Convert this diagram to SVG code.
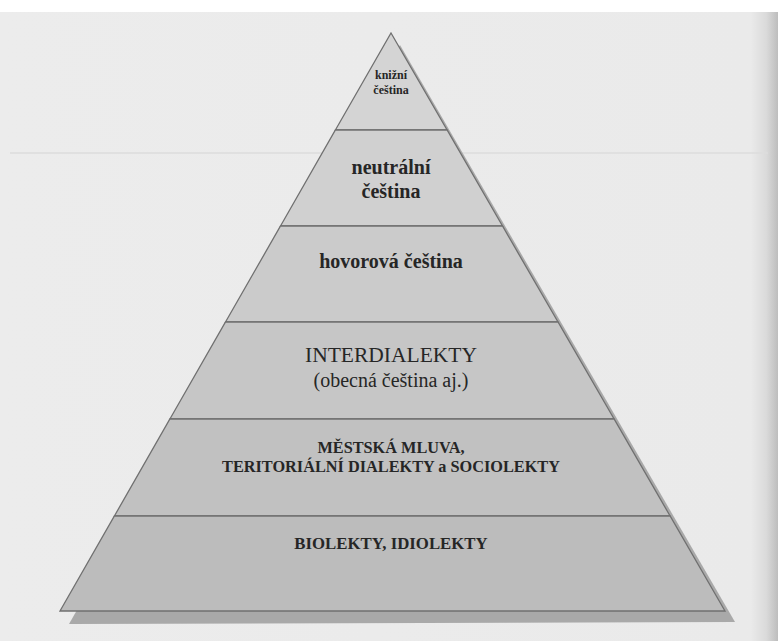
<svg xmlns="http://www.w3.org/2000/svg" width="778" height="641" viewBox="0 0 778 641">
  <style>
    .band { stroke: #707070; stroke-width: 1.3; stroke-linejoin: miter; }
    .t { font-family: 'Liberation Serif', 'DejaVu Serif', serif; fill: #262626; text-anchor: middle; }
    .b { font-weight: bold; }
  </style>
  <defs>
    <linearGradient id="page" x1="0" y1="0" x2="1" y2="0">
      <stop offset="0" stop-color="#ececec"/>
      <stop offset="0.965" stop-color="#eaeaea"/>
      <stop offset="0.985" stop-color="#dadada"/>
      <stop offset="1" stop-color="#bdbdbd"/>
    </linearGradient>
  </defs>
  <rect x="0" y="0" width="778" height="641" fill="#ffffff"/>
  <rect x="0" y="12" width="778" height="629" fill="url(#page)"/>
  <line x1="10" y1="153" x2="768" y2="153" stroke="#dcdcdc" stroke-width="1.5"/>

  <g id="shadow">
    <polygon points="400,45 69,624 735,622" fill="#a9a9a9"/>
  </g>

  <g id="band-knizni">
    <polygon class="band" points="391,33 447.1,130 335.4,130" fill="#d4d4d4"/>
    <text class="t b" x="391" y="79" font-size="12">knižní</text>
    <text class="t b" x="391" y="94" font-size="12">čeština</text>
  </g>
  <g id="band-neutralni">
    <polygon class="band" points="335.4,130 447.1,130 502.5,226 280.5,226" fill="#d0d0d0"/>
    <text class="t b" x="391" y="174" font-size="20">neutrální</text>
    <text class="t b" x="391" y="198" font-size="20">čeština</text>
  </g>
  <g id="band-hovorova">
    <polygon class="band" points="280.5,226 502.5,226 558,322 225.5,322" fill="#cbcbcb"/>
    <text class="t b" x="391" y="268" font-size="20">hovorová čeština</text>
  </g>
  <g id="band-interdialekty">
    <polygon class="band" points="225.5,322 558,322 614.1,419 169.9,419" fill="#c6c6c6"/>
    <text class="t" x="391" y="362" font-size="21.5">INTERDIALEKTY</text>
    <text class="t" x="391" y="387" font-size="20">(obecná čeština aj.)</text>
  </g>
  <g id="band-mestska">
    <polygon class="band" points="169.9,419 614.1,419 670.1,516 114.4,516" fill="#c1c1c1"/>
    <text class="t b" x="391" y="453" font-size="16.3">MĚSTSKÁ MLUVA,</text>
    <text class="t b" x="391" y="472" font-size="16.3">TERITORIÁLNÍ DIALEKTY a SOCIOLEKTY</text>
  </g>
  <g id="band-biolekty">
    <polygon class="band" points="114.4,516 670.1,516 725,611 60,611" fill="#bcbcbc"/>
    <text class="t b" x="391" y="549" font-size="16.8">BIOLEKTY, IDIOLEKTY</text>
  </g>
</svg>
